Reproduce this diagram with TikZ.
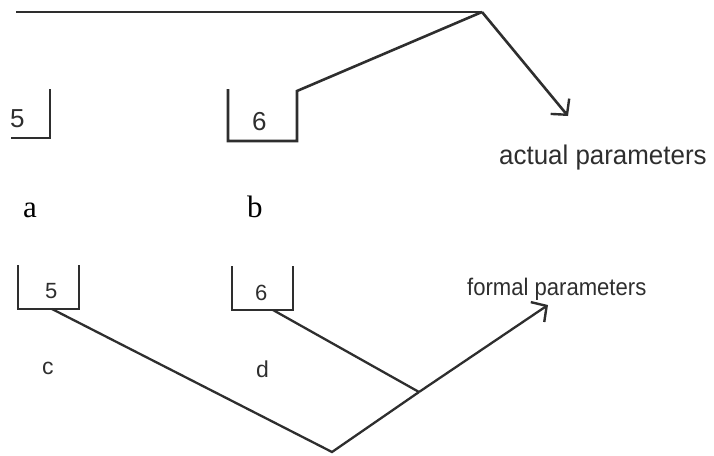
\documentclass[tikz,border=0pt]{standalone}
\usepackage{fontspec}
\setmainfont{Liberation Serif}
\setsansfont{Liberation Sans}
\usetikzlibrary{arrows.meta}
\definecolor{ink}{HTML}{2E2E2E}
\begin{document}
\begin{tikzpicture}[x=1pt,y=-1pt,
  line/.style={draw=ink,line width=2.6pt,line join=miter},
  thin/.style={draw=ink,line width=2.3pt,line join=miter},
  tip/.style={-{Straight Barb[length=11pt,width=24pt,line width=2.4pt]}},
  lbl/.style={inner sep=0pt,anchor=base west,text=ink,font=\sffamily},
  srf/.style={inner sep=0pt,anchor=base west,text=black,font=\rmfamily}]
\useasboundingbox (0,0) rectangle (714,455);
% coordinates
\coordinate (top0) at (16,12);
\coordinate (hub) at (482,12);
\coordinate (atip) at (568,116);
\coordinate (a1) at (11,138);
\coordinate (a2) at (50,138);
\coordinate (a3) at (50,89);
\coordinate (b1) at (228,89);
\coordinate (b2) at (228,141);
\coordinate (b3) at (297,141);
\coordinate (b4) at (297,91);
\coordinate (c1) at (18,265);
\coordinate (c2) at (18,309);
\coordinate (c3) at (79,309);
\coordinate (c4) at (79,265);
\coordinate (cm) at (52,309);
\coordinate (d1) at (232,266);
\coordinate (d2) at (232,310);
\coordinate (d3) at (293,310);
\coordinate (d4) at (293,266);
\coordinate (dm) at (273,310);
\coordinate (vee) at (332,452);
\coordinate (join) at (419,392);
\coordinate (ftip) at (548,305);
% labels
\node[lbl,font=\sffamily\fontsize{26}{26}\selectfont] (n5t) at (10,127) {5};
\node[lbl,font=\sffamily\fontsize{26}{26}\selectfont] (n6t) at (252,130) {6};
\node[lbl,font=\sffamily\fontsize{27}{27}\selectfont,xscale=0.96] (act) at (499,164) {actual parameters};
\node[srf,font=\rmfamily\fontsize{31}{31}\selectfont] (la) at (23,217) {a};
\node[srf,font=\rmfamily\fontsize{31}{31}\selectfont] (lb) at (247,217) {b};
\node[lbl,font=\sffamily\fontsize{22}{22}\selectfont] (n5b) at (45,298) {5};
\node[lbl,font=\sffamily\fontsize{22}{22}\selectfont] (n6b) at (255,300) {6};
\node[lbl,font=\sffamily\fontsize{24}{24}\selectfont,xscale=0.92] (frm) at (467,295) {formal parameters};
\node[lbl,font=\sffamily\fontsize{23}{23}\selectfont] (lc) at (42,374) {c};
\node[lbl,font=\sffamily\fontsize{23}{23}\selectfont] (ld) at (256,377) {d};
% drawing
\draw[line] (top0) -- (hub);
\draw[line,tip] (hub) -- (atip);
\draw[line] (a1) -- (a2) -- (a3);
\draw[line] (b1) -- (b2) -- (b3) -- (b4) -- (hub);
\draw[thin] (c1) -- (c2) -- (c3) -- (c4);
\draw[thin] (d1) -- (d2) -- (d3) -- (d4);
\draw[thin] (cm) -- (vee) -- (join);
\draw[thin,tip] (join) -- (ftip);
\draw[thin] (dm) -- (join);
\end{tikzpicture}
\end{document}
